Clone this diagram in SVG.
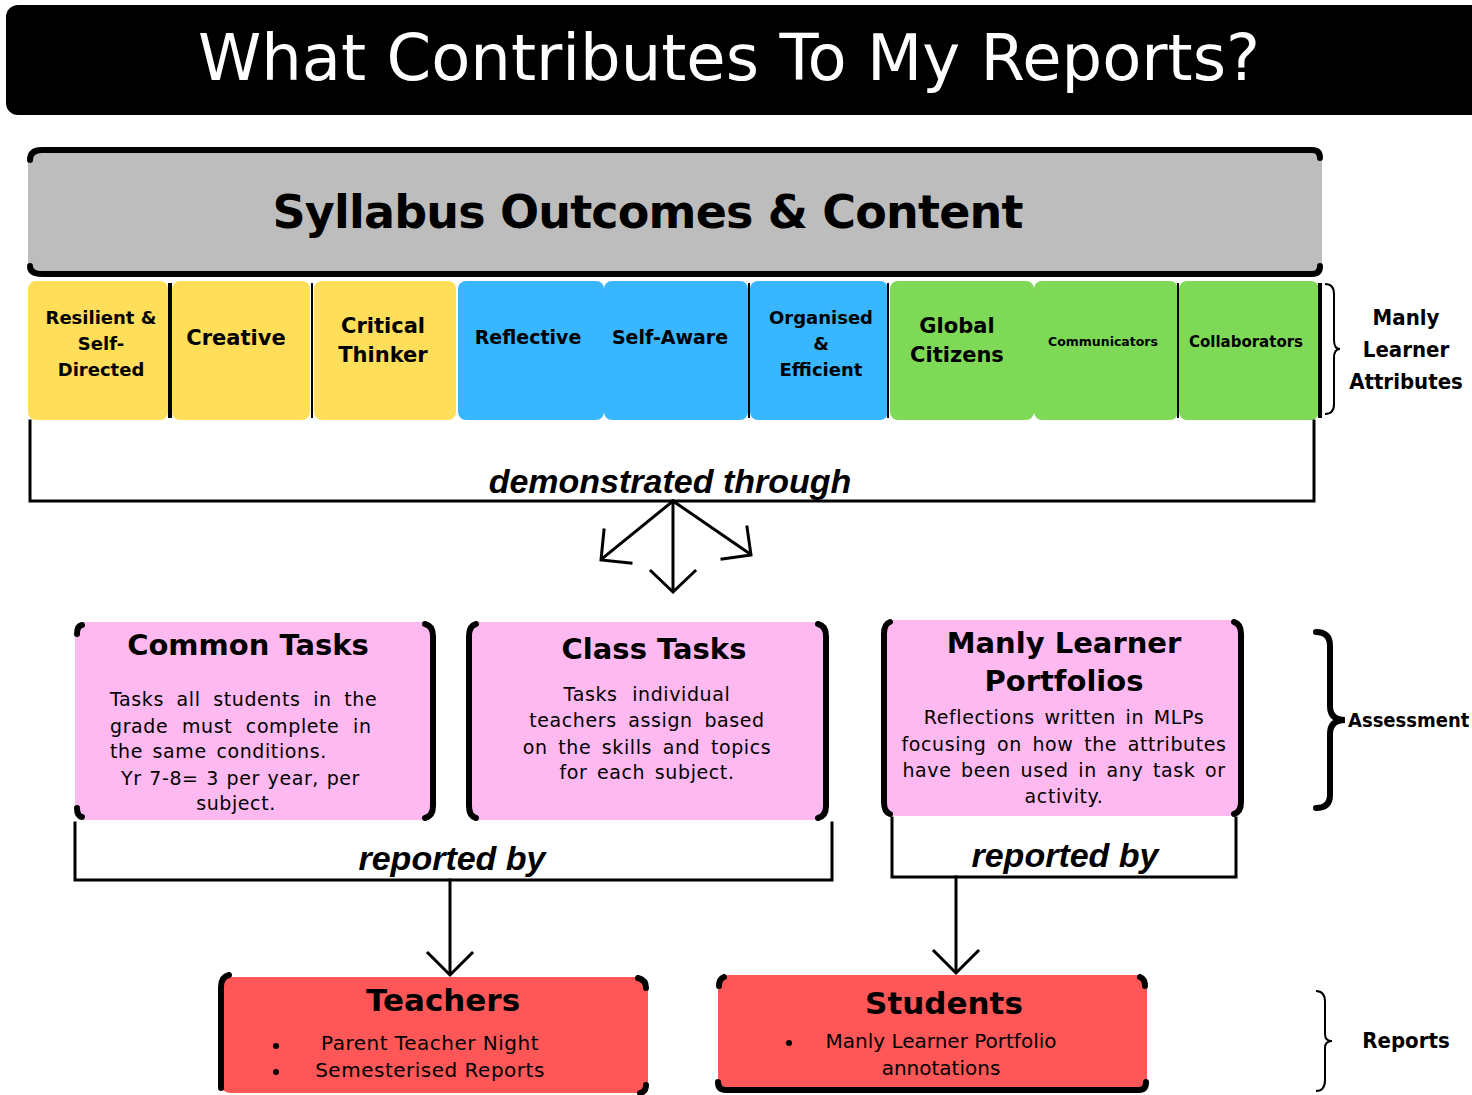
<svg xmlns="http://www.w3.org/2000/svg" width="1472" height="1095" viewBox="0 0 1472 1095">
<style>
.t{font-family:"DejaVu Sans",Verdana,sans-serif;}
.b{font-family:"DejaVu Sans",Verdana,sans-serif;font-weight:bold;}
.bc{font-family:"DejaVu Sans Condensed","DejaVu Sans",sans-serif;font-weight:bold;}
.bi{font-family:"Liberation Sans",Arial,sans-serif;font-weight:bold;font-style:italic;}
.ln{fill:none;stroke:#000;stroke-width:3;stroke-linecap:square;}
.thk{fill:none;stroke:#000;stroke-width:6;stroke-linecap:round;}
.thn{fill:none;stroke:#000;stroke-width:2;}
.y{fill:#FFDE59;}.bl{fill:#38B6FF;}.g{fill:#7ED957;}.p{fill:#FFB9F1;}.r{fill:#FF5757;}
.body{font-family:"DejaVu Sans",Verdana,sans-serif;font-size:19px;letter-spacing:0.6px;word-spacing:3px;fill:#000;}
</style>
<rect width="1472" height="1095" fill="#fff"/>

<g id="title">
<rect x="6" y="5" width="1480" height="110" rx="12" fill="#000"/>
<text x="729" y="80" class="t" font-size="64" fill="#fff" text-anchor="middle" textLength="1062" lengthAdjust="spacing">What Contributes To My Reports?</text>
</g>

<g id="syllabus">
<rect x="28" y="150" width="1294" height="124" rx="8" fill="#BDBDBD"/>
<path class="thk" d="M30,160 Q30,150 42,150 L1312,150 Q1320,150 1320,158"/>
<path class="thk" d="M30,266 Q30,274 42,274 L1312,274 Q1320,274 1320,266"/>
<text x="648" y="228" class="b" font-size="46" text-anchor="middle" textLength="751" lengthAdjust="spacing">Syllabus Outcomes &amp; Content</text>
</g>

<g id="attr-resilient">
<rect x="28" y="281" width="140" height="139" rx="8" class="y"/>
<text class="b" font-size="18" text-anchor="middle"><tspan x="101" y="324">Resilient &amp;</tspan><tspan x="101" y="350">Self-</tspan><tspan x="101" y="376">Directed</tspan></text>
</g>
<g id="attr-creative">
<rect x="172" y="281" width="138" height="139" rx="8" class="y"/>
<text x="236" y="345" class="b" font-size="21" text-anchor="middle">Creative</text>
</g>
<g id="attr-critical">
<rect x="314" y="281" width="142" height="139" rx="8" class="y"/>
<text class="b" font-size="21" text-anchor="middle"><tspan x="383" y="333">Critical</tspan><tspan x="383" y="362">Thinker</tspan></text>
</g>
<g id="attr-reflective">
<rect x="458" y="281" width="146" height="139" rx="8" class="bl"/>
<text x="528" y="344" class="b" font-size="19" text-anchor="middle">Reflective</text>
</g>
<g id="attr-selfaware">
<rect x="604" y="281" width="144" height="139" rx="8" class="bl"/>
<text x="670" y="344" class="b" font-size="19" text-anchor="middle">Self-Aware</text>
</g>
<g id="attr-organised">
<rect x="750" y="281" width="138" height="139" rx="8" class="bl"/>
<text class="b" font-size="18" text-anchor="middle"><tspan x="821" y="324">Organised</tspan><tspan x="821" y="350">&amp;</tspan><tspan x="821" y="376">Efficient</tspan></text>
</g>
<g id="attr-global">
<rect x="890" y="281" width="144" height="139" rx="8" class="g"/>
<text class="b" font-size="21" text-anchor="middle"><tspan x="957" y="333">Global</tspan><tspan x="957" y="362">Citizens</tspan></text>
</g>
<g id="attr-communicators">
<rect x="1034" y="281" width="144" height="139" rx="8" class="g"/>
<text x="1103" y="346" class="b" font-size="12.5" text-anchor="middle">Communicators</text>
</g>
<g id="attr-collaborators">
<rect x="1179" y="281" width="140" height="139" rx="8" class="g"/>
<text x="1246" y="347" class="b" font-size="15" text-anchor="middle">Collaborators</text>
</g>
<g id="attr-dividers">
<line x1="170" y1="283" x2="170" y2="418" stroke="#000" stroke-width="4"/>
<line x1="312" y1="283" x2="312" y2="418" stroke="#000" stroke-width="2"/>
<line x1="749" y1="283" x2="749" y2="418" stroke="#000" stroke-width="2"/>
<line x1="888" y1="283" x2="888" y2="418" stroke="#000" stroke-width="2"/>
<line x1="1178" y1="283" x2="1178" y2="418" stroke="#000" stroke-width="2"/>
<line x1="1320" y1="283" x2="1320" y2="418" stroke="#000" stroke-width="4"/>
</g>

<g id="label-attributes">
<path class="thn" d="M1325,284 Q1334,284 1334,294 L1334,340 Q1334,349 1340,349 Q1334,349 1334,358 L1334,404 Q1334,414 1325,414"/>
<text class="bc" font-size="22" text-anchor="middle"><tspan x="1406" y="325">Manly</tspan><tspan x="1406" y="357">Learner</tspan><tspan x="1406" y="389">Attributes</tspan></text>
</g>

<g id="connectors">
<path class="ln" d="M30,421 L30,501 L1314,501 L1314,421"/>
<text x="670" y="493" class="bi" font-size="34" text-anchor="middle">demonstrated through</text>
<g class="ln" stroke-width="3.5">
<path d="M673,501 L673,590"/>
<path d="M651,571 L673,592 L695,571"/>
<path d="M673,501 L603,558"/>
<path d="M604,530 L601,560 L631,563"/>
<path d="M673,501 L750,554"/>
<path d="M747,527 L751,555 L722,559"/>
</g>
<path class="ln" d="M75,823 L75,880 L832,880 L832,823"/>
<text x="452" y="870" class="bi" font-size="34" text-anchor="middle">reported by</text>
<path class="ln" d="M892,818 L892,877 L1236,877 L1236,818"/>
<text x="1065" y="867" class="bi" font-size="34" text-anchor="middle">reported by</text>
<g class="ln" stroke-width="3.5">
<path d="M450,880 L450,973"/>
<path d="M428,953 L450,975 L472,953"/>
<path d="M956,877 L956,971"/>
<path d="M934,951 L956,973 L978,951"/>
</g>
</g>

<g id="common-tasks">
<rect x="75" y="622" width="360" height="198" rx="10" class="p"/>
<path class="thk" d="M82,625 Q77,626 77,634"/>
<path class="thk" d="M77,808 Q77,816 82,817"/>
<path class="thk" d="M425,624 Q433,626 433,636 L433,806 Q433,816 425,818"/>
<text x="248" y="655" class="b" font-size="29" text-anchor="middle">Common Tasks</text>
<text class="body"><tspan x="110" y="706" word-spacing="6">Tasks all students in the</tspan><tspan x="110" y="733" word-spacing="7">grade must complete in</tspan><tspan x="110" y="758">the same conditions.</tspan><tspan x="121" y="785" word-spacing="1">Yr 7-8= 3 per year, per</tspan><tspan x="236" y="810" text-anchor="middle">subject.</tspan></text>
</g>

<g id="class-tasks">
<rect x="467" y="622" width="361" height="198" rx="10" class="p"/>
<path class="thk" d="M476,624 Q469,626 469,636 L469,806 Q469,816 476,818"/>
<path class="thk" d="M818,624 Q826,626 826,636 L826,806 Q826,816 818,818"/>
<text x="654" y="659" class="b" font-size="29" text-anchor="middle">Class Tasks</text>
<text class="body" text-anchor="middle"><tspan x="647" y="701" word-spacing="8">Tasks individual</tspan><tspan x="647" y="727" word-spacing="5">teachers assign based</tspan><tspan x="647" y="754" word-spacing="4">on the skills and topics</tspan><tspan x="647" y="779">for each subject.</tspan></text>
</g>

<g id="mlp">
<rect x="882" y="620" width="361" height="196" rx="10" class="p"/>
<path class="thk" d="M890,622 Q884,624 884,634 L884,802 Q884,812 890,814"/>
<path class="thk" d="M1234,622 Q1241,624 1241,634 L1241,802 Q1241,812 1234,814"/>
<text class="b" font-size="29" text-anchor="middle"><tspan x="1064" y="653">Manly Learner</tspan><tspan x="1064" y="691">Portfolios</tspan></text>
<text class="body" text-anchor="middle"><tspan x="1064" y="724">Reflections written in MLPs</tspan><tspan x="1064" y="751" word-spacing="4">focusing on how the attributes</tspan><tspan x="1064" y="777">have been used in any task or</tspan><tspan x="1064" y="803">activity.</tspan></text>
</g>

<g id="label-assessment">
<path class="thk" stroke-width="3" d="M1316,632 Q1330,632 1330,646 L1330,706 Q1330,720 1345,720 Q1330,720 1330,734 L1330,795 Q1330,808 1316,808"/>
<text x="1348" y="727" class="bc" font-size="20">Assessment</text>
</g>

<g id="teachers">
<rect x="220" y="977" width="428" height="116" rx="10" class="r"/>
<path class="thk" d="M229,975 Q221,977 221,987 L221,1088"/>
<path class="thk" d="M638,978 Q646,980 646,988"/>
<path class="thk" d="M646,1085 Q646,1092 640,1093"/>
<text x="443" y="1011" class="b" font-size="31" text-anchor="middle">Teachers</text>
<circle cx="276" cy="1046" r="3" fill="#000"/>
<circle cx="276" cy="1072" r="3" fill="#000"/>
<text class="t" font-size="20" text-anchor="middle" letter-spacing="0.5"><tspan x="430" y="1050">Parent Teacher Night</tspan><tspan x="430" y="1077">Semesterised  Reports</tspan></text>
</g>

<g id="students">
<rect x="718" y="975" width="429" height="117" rx="10" class="r"/>
<path class="thk" d="M724,977 Q719,979 719,986"/>
<path class="thk" d="M1140,977 Q1145,979 1145,986"/>
<path class="thk" d="M718,1082 Q718,1090 726,1090 L1139,1090 Q1146,1090 1146,1082"/>
<text x="944" y="1014" class="b" font-size="31" text-anchor="middle">Students</text>
<circle cx="789" cy="1043" r="3" fill="#000"/>
<text class="t" font-size="20" text-anchor="middle"><tspan x="941" y="1048">Manly  Learner  Portfolio</tspan><tspan x="941" y="1075">annotations</tspan></text>
</g>

<g id="label-reports">
<path class="thn" d="M1316,991 Q1325,991 1325,1002 L1325,1034 Q1325,1041 1332,1041 Q1325,1041 1325,1048 L1325,1080 Q1325,1091 1316,1091"/>
<text x="1406" y="1048" class="bc" font-size="22" text-anchor="middle">Reports</text>
</g>
</svg>
